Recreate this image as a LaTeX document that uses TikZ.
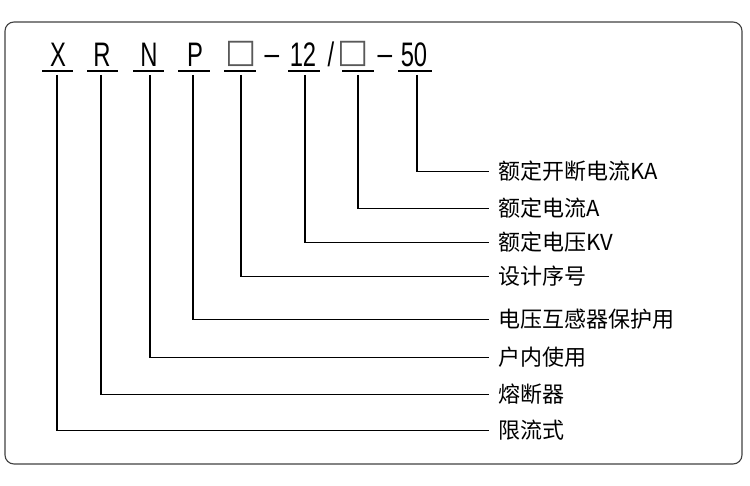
\documentclass[tikz,border=0pt]{standalone}
\usepackage{fontspec}
\setmainfont{Liberation Sans}
\newfontfamily\cjk{Noto Sans CJK SC}
\newfontfamily\narrow[FakeStretch=0.7]{Liberation Sans}
\newfontfamily\symf{DejaVu Sans}
\begin{document}
\begin{tikzpicture}[x=1pt,y=-1pt,
  code/.style={inner sep=0pt, anchor=base, font=\narrow\fontsize{34}{34}\selectfont},
  dashsym/.style={inner sep=0pt, anchor=base, font=\fontsize{30}{30}\selectfont},
  boxsym/.style={inner sep=0pt, anchor=base, font=\symf\fontsize{33}{33}\selectfont, text=black!65},
  lab/.style={anchor=west, inner xsep=9pt, inner ysep=0pt, yshift=-1.5pt, font=\cjk\fontsize{22}{22}\selectfont},
  uline/.style={line width=1.3pt},
  conn/.style={line width=1.4pt}]
\useasboundingbox (0,0) rectangle (750,486);
\draw[line width=1.1pt, black!75, rounded corners=9pt] (5,22) rectangle (742,464);
% code characters
\node[code] (cX) at (58,67) {X};
\node[code] (cR) at (102,67) {R};
\node[code] (cN) at (149,67) {N};
\node[code] (cP) at (195,67) {P};
\node[boxsym] (cB1) at (241,63) {□};
\node[dashsym] (cD1) at (272,67) {−};
\node[code] (c12) at (303,67) {12};
\node[code] (cS) at (331,67) {/};
\node[boxsym] (cB2) at (353,63) {□};
\node[dashsym] (cD2) at (385,67) {−};
\node[code] (c50) at (414,67) {50};
% underlines
\draw[uline] (42,71) -- (73,71);
\draw[uline] (87,71) -- (118,71);
\draw[uline] (133,71) -- (164,71);
\draw[uline] (178,71) -- (210,71);
\draw[uline] (224,71) -- (256,71);
\draw[uline] (288,71) -- (320,71);
\draw[uline] (342,71) -- (374,71);
\draw[uline] (398,71) -- (432,71);
% connector start points
\coordinate (uX) at (57,75);
\coordinate (uR) at (101,75);
\coordinate (uN) at (150,75);
\coordinate (uP) at (193,75);
\coordinate (uB1) at (241,75);
\coordinate (u12) at (305,75);
\coordinate (uB2) at (358,75);
\coordinate (u50) at (417,75);
% labels
\node[lab] (l1) at (489,170) {额定开断电流KA};
\node[lab] (l2) at (489,207) {额定电流A};
\node[lab] (l3) at (489,241) {额定电压KV};
\node[lab] (l4) at (489,275) {设计序号};
\node[lab] (l5) at (489,318) {电压互感器保护用};
\node[lab] (l6) at (489,356) {户内使用};
\node[lab] (l7) at (489,393) {熔断器};
\node[lab] (l8) at (489,429) {限流式};
% connectors
\draw[conn] (u50) |- (l1.west);
\draw[conn] (uB2) |- (l2.west);
\draw[conn] (u12) |- (l3.west);
\draw[conn] (uB1) |- (l4.west);
\draw[conn] (uP) |- (l5.west);
\draw[conn] (uN) |- (l6.west);
\draw[conn] (uR) |- (l7.west);
\draw[conn] (uX) |- (l8.west);
\end{tikzpicture}
\end{document}
